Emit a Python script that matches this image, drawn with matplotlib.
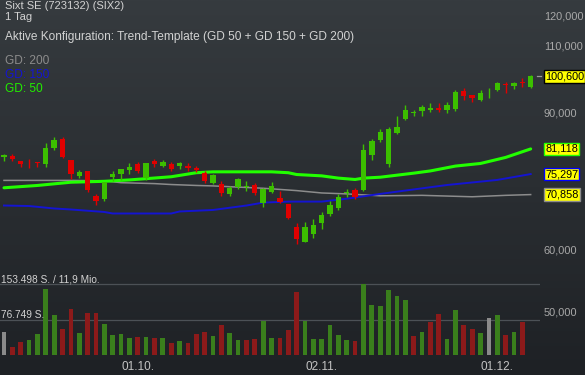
import numpy as np
import matplotlib
matplotlib.use("Agg")
import matplotlib.pyplot as plt
from matplotlib import transforms

plt.rcParams['font.family'] = ['Liberation Sans', 'DejaVu Sans']

# ---------------- data ----------------
opens = [79.2, 79.4, 78.3, 77.9, 78.0, 77.6, 81.4, 83.5, 78.5, 74.9,
         76.0, 70.6, 70.0, 74.7, 75.3, 76.2, 77.6, 74.4, 78.2, 77.2,
         77.6, 77.2, 77.2, 76.7, 75.5, 73.4, 73.2, 71.0, 72.5, 72.4,
         72.8, 69.2, 71.5, 70.2, 69.0, 64.4, 61.6, 63.1, 65.2, 66.8,
         68.0, 71.2, 71.8, 71.8, 79.7, 83.3, 77.6, 85.1, 88.6, 90.2,
         90.7, 91.0, 91.5, 91.0, 91.3, 96.3, 95.3, 93.8, 95.6, 96.7,
         98.3, 97.7, 98.9, 97.5]
highs = [79.8, 79.8, 78.3, 78.7, 78.0, 82.5, 84.0, 84.0, 78.5, 76.2,
         76.0, 71.0, 73.6, 76.0, 76.4, 77.7, 78.1, 77.9, 78.7, 78.5,
         78.0, 78.0, 77.7, 77.1, 75.9, 75.4, 73.8, 72.6, 74.5, 73.7,
         73.3, 72.2, 73.5, 71.6, 69.0, 65.1, 65.3, 65.9, 67.3, 69.5,
         70.9, 72.1, 72.3, 82.3, 83.6, 86.0, 86.6, 89.4, 92.4, 91.0,
         92.4, 92.8, 92.8, 93.1, 96.5, 97.2, 95.3, 96.5, 97.1, 98.9,
         99.0, 99.0, 100.0, 100.9]
lows = [78.3, 78.2, 77.0, 76.7, 76.8, 76.9, 80.8, 78.9, 74.1, 74.5,
        71.5, 68.8, 69.6, 73.8, 74.0, 75.4, 75.6, 74.0, 77.0, 77.0,
        76.0, 76.5, 76.0, 75.7, 73.3, 73.1, 70.5, 70.6, 72.1, 71.6,
        70.7, 68.2, 71.2, 69.1, 65.9, 61.2, 61.5, 62.3, 63.9, 66.6,
        67.6, 70.4, 70.0, 71.6, 78.6, 82.9, 76.8, 84.7, 88.3, 89.5,
        89.5, 90.4, 90.6, 90.3, 90.8, 93.8, 93.3, 93.5, 94.3, 96.4,
        95.6, 97.0, 97.4, 97.2]
closes = [79.6, 78.8, 77.6, 77.7, 77.8, 81.3, 83.3, 79.3, 75.4, 75.8,
          71.8, 69.5, 73.6, 75.3, 76.4, 76.9, 76.0, 77.9, 77.6, 78.1,
          76.4, 77.7, 76.6, 76.1, 73.8, 75.1, 71.1, 72.2, 74.1, 72.7,
          71.2, 72.1, 72.7, 69.4, 66.2, 62.1, 64.4, 64.8, 66.7, 68.7,
          70.4, 71.5, 70.4, 80.9, 83.0, 85.3, 86.0, 86.6, 91.0, 90.6,
          91.9, 91.5, 91.1, 92.4, 96.0, 95.0, 94.4, 95.8, 95.8, 98.6,
          97.9, 98.6, 98.5, 100.6]
# volume in thousand shares (last day: no volume bar)
volumes_k = [49.3, 18.0, 28.9, 31.9, 44.9, 143.3, 86.2, 57.1, 99.9, 47.1,
             90.5, 91.8, 67.3, 42.8, 44.9, 36.3, 38.4, 39.7, 36.3, 36.3,
             25.4, 29.7, 25.4, 44.9, 49.3, 40.6, 65.8, 47.1, 31.9, 32.5,
             35.4, 73.8, 36.3, 36.7, 54.3, 137.4, 73.8, 34.1, 34.1, 64.5,
             42.8, 32.6, 29.7, 153.498, 108.6, 105.7, 140.5, 128.8, 120.1, 41.9,
             49.3, 72.3, 89.7, 34.1, 97.0, 64.5, 55.8, 47.8, 79.7, 86.2,
             42.8, 49.9, 72.3, np.nan]

gd50_days = [0, 4, 8, 12, 15, 20, 23, 25, 32, 34, 35, 38, 40, 42, 43, 45, 49, 51, 54, 57, 60, 63]
gd50_vals = [72.3, 72.8, 73.5, 73.7, 74.0, 74.7, 75.6, 75.8, 75.8, 75.6, 75.2, 74.9, 74.4,
             74.1, 74.4, 74.6, 75.5, 76.0, 77.1, 77.7, 79.1, 81.118]
gd150_days = [0, 3, 6, 8, 12, 13, 20, 21, 25, 29, 31, 34, 38, 41, 45, 53, 59, 63]
gd150_vals = [68.6, 68.5, 68.0, 67.8, 67.3, 67.0, 67.0, 67.4, 67.7, 68.6, 69.2, 69.4, 69.4,
              70.0, 71.0, 72.9, 74.0, 75.297]
gd200_days = [0, 8, 12, 14, 18, 20, 23, 25, 31, 35, 38, 41, 45, 50, 56, 60, 63]
gd200_vals = [73.9, 73.9, 73.8, 73.4, 73.2, 73.0, 72.8, 72.7, 72.2, 71.7, 71.2, 71.0, 70.6,
              70.7, 70.4, 70.7, 70.858]

date_days = [16, 38, 59]
date_labels = ["01.10.", "02.11.", "01.12."]
# visible price axis labels (100,000 / 80,000 / 70,000 sit under the value boxes)
price_ticks = [120, 110, 90, 60, 50]
price_tick_labels = ["120,000", "110,000", "90,000", "60,000", "50,000"]
marker_vals = [100.6, 81.118, 75.297, 70.858]
marker_labels = ["100,600", "81,118", "75,297", "70,858"]

# ---------------- layout / style ----------------
W, H = 585, 375
PLOT_R = 540          # right edge of plot area (px)
X0, DX = 4.0, 8.36    # px position of first candle and spacing
def px2price(y):       # log price scale calibration
    return 120.0 * 10 ** (-(y - 16.7) / 777.5)

GREEN = '#3cbf00'
RED = '#e00000'
VGREEN = '#3a7f1c'
VRED = '#8c1a1a'
VGRAY = '#8a8a8a'
TXT = '#d2d2d2'

fig = plt.figure(figsize=(W / 100, H / 100), dpi=100)

# background gradient
bg = fig.add_axes([0, 0, 1, 1], zorder=-10)
g = np.linspace(0, 1, 256)[:, None, None]
top = np.array([0x36, 0x3b, 0x3f]) / 255
bot = np.array([0x1e, 0x21, 0x25]) / 255
img = top[None, None, :] * (1 - g) + bot[None, None, :] * g
bg.imshow(np.repeat(img, 2, axis=1), aspect='auto', extent=[0, 1, 0, 1])
bg.axis('off')

xlim = (-X0 / DX, (PLOT_R - X0) / DX)

# volume axes
vmax = np.nanmax(volumes_k)
vh = 70.7 * 1.2
vax = fig.add_axes([0, 20 / H, PLOT_R / W, vh / H], zorder=1)
vax.set_facecolor('none')
vax.set_xlim(*xlim)
vax.set_ylim(0, vmax * 1.2)
vax.axis('off')
x = np.arange(len(closes))
vcolors = []
for i in range(len(closes)):
    if i == 0 or closes[i] == closes[i - 1]:
        vcolors.append(VGRAY)
    elif closes[i] > closes[i - 1]:
        vcolors.append(VGREEN)
    else:
        vcolors.append(VRED)
vax.bar(x, np.nan_to_num(volumes_k), width=0.56, color=vcolors, zorder=2)
for lv in (vmax, vmax / 2):
    vax.axhline(lv, color='#4c5156', lw=0.9, zorder=1)
vtr = transforms.blended_transform_factory(vax.transAxes, vax.transData)
vax.text(1 / PLOT_R, vmax, "153.498 S. / 11,9 Mio.", transform=vtr,
         color=TXT, fontsize=7.3, va='bottom', ha='left')
vax.text(1 / PLOT_R, vmax / 2, "76.749 S.", transform=vtr,
         color=TXT, fontsize=7.3, va='bottom', ha='left')

# price axes
ax = fig.add_axes([0, 0, PLOT_R / W, 1], zorder=2)
ax.set_facecolor('none')
ax.set_yscale('log')
ax.set_ylim(px2price(H), px2price(0))
ax.set_xlim(*xlim)
ax.axis('off')

ax.plot(gd200_days, gd200_vals, color='#8c8c8c', lw=1.1, zorder=2)
ax.plot(gd150_days, gd150_vals, color='#1414d2', lw=1.4, zorder=3)
ax.plot(gd50_days, gd50_vals, color='#22ff00', lw=2.2, zorder=4, solid_capstyle='round')

o = np.array(opens); c = np.array(closes)
ccolors = [GREEN if cc >= oo else RED for oo, cc in zip(o, c)]
ax.vlines(x, lows, highs, colors=ccolors, lw=1.0, zorder=5)
bottoms = np.minimum(o, c)
heights = np.maximum(np.abs(c - o), 0.22)
ax.bar(x, heights, bottom=bottoms, width=0.64, color=ccolors, zorder=6)

# date labels
dtr = transforms.blended_transform_factory(ax.transData, ax.transAxes)
for d, lab in zip(date_days, date_labels):
    ax.text(d, 5 / H, lab, transform=dtr, ha='center', va='baseline', color='#c4c4c4', fontsize=8.5)

# right price axis labels
rtr = transforms.blended_transform_factory(fig.transFigure, ax.transData)
for v, lab in zip(price_ticks, price_tick_labels):
    fig.text(544 / W, v, lab, transform=rtr, ha='left', va='center', color='#a8a8a8', fontsize=7.9, zorder=3)

edge_cols = ['#000000', '#22ff00', '#0000ff', '#8c8c8c']
for v, lab, ec in zip(marker_vals, marker_labels, edge_cols):
    fig.text(545 / W, v, lab, transform=rtr, ha='left', va='center', color='black', fontsize=7.8, zorder=5,
             bbox=dict(boxstyle='square,pad=0.12', fc='#ffff00', ec=ec, lw=1.0))
ax.plot([(537 - X0) / DX, (541 - X0) / DX], [closes[-1], closes[-1]], color='#9a9a9a', lw=0.9, clip_on=False)

# header texts
def ftext(px, py, s, size=8.6, **kw):
    fig.text(px / W, 1 - py / H, s, va='baseline', ha='left', fontsize=size, **kw)
ftext(5, 9.2, "Sixt SE (723132) (SIX2)", size=8.0, color=TXT)
ftext(5, 20.5, "1 Tag", size=8.0, color=TXT)
ftext(5, 40, "Aktive Konfiguration: Trend-Template (GD 50 + GD 150 + GD 200)", color=TXT)
ftext(5, 64, "GD: 200", color='#8c8c8c')
ftext(5, 78, "GD: 150", color='#1414d2')
ftext(5, 92, "GD: 50", color='#22ee00')

fig.savefig("out.png", dpi=100)
